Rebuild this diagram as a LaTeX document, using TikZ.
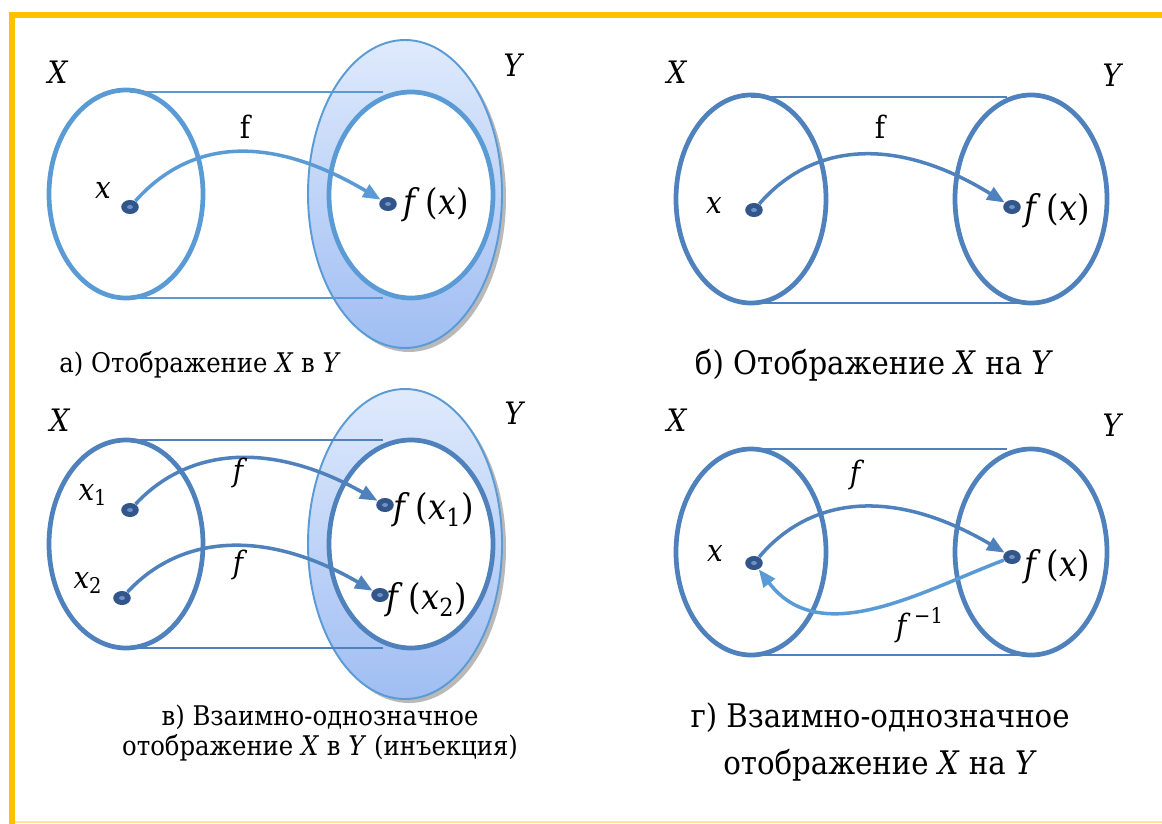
\documentclass[tikz,border=0pt]{standalone}
\usepackage{fontspec}
\setmainfont{DejaVu Serif Condensed}[Scale=0.88]
\usetikzlibrary{arrows.meta, shapes.geometric}
\definecolor{frameorange}{HTML}{FFC000}
\definecolor{lightblue}{HTML}{5B9BD5}
\definecolor{steelblue}{HTML}{4F81BD}
\definecolor{dotblue}{HTML}{32558A}
\definecolor{dotin}{HTML}{6D93C9}
\definecolor{shadetop}{HTML}{DFEAFC}
\definecolor{shadebot}{HTML}{A0BEF3}
\newcommand{\vi}[1]{\textit{#1}}

\begin{document}
\begin{tikzpicture}[x=0.02cm, y=-0.02cm,
  setline/.style={line width=2.7pt},
  linkline/.style={line width=1.1pt},
  arr/.style={line width=2pt, -{Triangle[length=10pt,width=8pt]}},
  pt/.style={ellipse, inner sep=0pt, minimum width=10pt, minimum height=8pt, fill=dotblue,
    path picture={\fill[dotin] (path picture bounding box.center) ellipse [x radius=3, y radius=2];}},
  lbl/.style={font=\fontsize{20}{23}\selectfont},
  flbl/.style={font=\fontsize{23}{26}\selectfont, anchor=west, inner sep=0pt},
  capsmall/.style={font=\fontsize{17.5}{17}\selectfont, align=center},
  capbig/.style={font=\fontsize{21}{26.6}\selectfont, align=center}]
  \useasboundingbox (0,0) rectangle (1162,824);
  %cornice
  \fill[frameorange] (9,12) rectangle (1162,18);
  \fill[frameorange] (9,12) rectangle (15,824);
  \draw[frameorange!40, line width=0.6pt] (15,822) -- (1162,822);

  %pannello a
  \fill[gray!55] (409,198) ellipse [x radius=97, y radius=154];
  \shade[top color=shadetop, bottom color=shadebot] (405,194) ellipse [x radius=97, y radius=154];
  \draw[lightblue, linkline] (405,194) ellipse [x radius=97, y radius=154];
  \draw[lightblue, setline] (126,194) ellipse [x radius=77, y radius=104];
  \draw[lightblue, setline, fill=white] (411,195) ellipse [x radius=82, y radius=103];
  \draw[lightblue, linkline] (130,92) -- (383,92);
  \draw[lightblue, linkline] (130,298) -- (383,298);
  \node[pt] (xa) at (130,207) {};
  \node[pt] (fxa) at (388,204) {};
  \draw[arr, lightblue] (xa) .. controls (190,140) and (268,133) .. (fxa);
  \node[lbl] (Xa) at (58,72) {\vi{X}};
  \node[lbl] (Ya) at (514,65) {\vi{Y}};
  \node[lbl] (fa) at (245,127) {f};
  \node[lbl] (xla) at (103,190) {\vi{x}};
  \node[flbl] (fxla) at (403,205) {\vi{f}\,(\vi{x})};
  \node[capsmall] (capa) at (200,365) {а) Отображение \vi{X} в \vi{Y}};

  %pannello b
  \draw[steelblue, setline] (751,199) ellipse [x radius=75, y radius=104];
  \draw[steelblue, setline] (1031,199) ellipse [x radius=76, y radius=104];
  \draw[steelblue, linkline] (751,97) -- (1007,97);
  \draw[steelblue, linkline] (751,303) -- (1031,303);
  \node[pt] (xb) at (754,210) {};
  \node[pt] (fxb) at (1012,207) {};
  \draw[arr, steelblue] (xb) .. controls (812,143) and (895,135) .. (fxb);
  \node[lbl] (Xb) at (677,72) {\vi{X}};
  \node[lbl] (Yb) at (1113,75) {\vi{Y}};
  \node[lbl] (fb) at (880,127) {f};
  \node[lbl] (xlb) at (714,205) {\vi{x}};
  \node[flbl] (fxlb) at (1024,211) {\vi{f}\,(\vi{x})};
  \node[capbig] (capb) at (874,365) {б) Отображение \vi{X} на \vi{Y}};

  %pannello c
  \fill[gray!55] (409,548) ellipse [x radius=97, y radius=155];
  \shade[top color=shadetop, bottom color=shadebot] (405,544) ellipse [x radius=97, y radius=155];
  \draw[lightblue, linkline] (405,544) ellipse [x radius=97, y radius=155];
  \draw[steelblue, setline] (126,544) ellipse [x radius=77, y radius=104];
  \draw[steelblue, setline, fill=white] (411,544) ellipse [x radius=82, y radius=104];
  \draw[steelblue, linkline] (130,440) -- (383,440);
  \draw[steelblue, linkline] (130,648) -- (383,648);
  \node[pt] (xc1) at (130,510) {};
  \node[pt] (xc2) at (122,598) {};
  \node[pt] (fxc1) at (385,505) {};
  \node[pt] (fxc2) at (380,595) {};
  \draw[arr, steelblue] (xc1) .. controls (188,448) and (270,440) .. (fxc1);
  \draw[arr, steelblue] (xc2) .. controls (180,535) and (265,528) .. (fxc2);
  \node[lbl] (Xc) at (60,420) {\vi{X}};
  \node[lbl] (Yc) at (515,413) {\vi{Y}};
  \node[lbl] (xlc1) at (93,495) {\vi{x}\textsubscript{1}};
  \node[lbl] (xlc2) at (88,583) {\vi{x}\textsubscript{2}};
  \node[lbl] (fc1) at (240,473) {\vi{f}};
  \node[lbl] (fc2) at (240,565) {\vi{f}};
  \node[flbl] (fxlc1) at (393,510) {\vi{f}\,(\vi{x}\textsubscript{1})};
  \node[flbl] (fxlc2) at (386,600) {\vi{f}\,(\vi{x}\textsubscript{2})};
  \node[capsmall] (capc) at (320,733) {в) Взаимно-однозначное\\отображение \vi{X} в \vi{Y} (инъекция)};

  %pannello d
  \draw[steelblue, setline] (751,552) ellipse [x radius=75, y radius=103];
  \draw[steelblue, setline] (1031,552) ellipse [x radius=76, y radius=103];
  \draw[steelblue, linkline] (751,449) -- (1007,449);
  \draw[steelblue, linkline] (751,655) -- (1031,655);
  \node[pt] (xd) at (754,563) {};
  \node[pt] (fxd) at (1012,557) {};
  \draw[arr, steelblue] (xd) .. controls (812,495) and (895,488) .. (fxd);
  \draw[arr, lightblue] (fxd) .. controls (920,592) and (820,650) .. (xd);
  \node[lbl] (Xd) at (677,420) {\vi{X}};
  \node[lbl] (Yd) at (1113,425) {\vi{Y}};
  \node[lbl] (xld) at (715,553) {\vi{x}};
  \node[lbl] (fd) at (857,475) {\vi{f}};
  \node[lbl] (fdinv) at (920,625) {\vi{f}\textsuperscript{\,−1}};
  \node[flbl] (fxld) at (1024,567) {\vi{f}\,(\vi{x})};
  \node[capbig] (capd) at (880,742) {г) Взаимно-однозначное\\отображение \vi{X} на \vi{Y}};
\end{tikzpicture}
\end{document}
